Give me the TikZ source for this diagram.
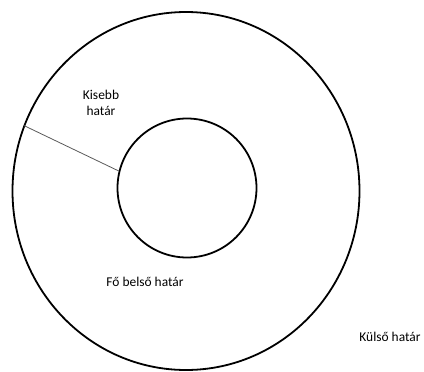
\documentclass[tikz,border=0pt]{standalone}
\usepackage{fontspec}
\setmainfont{Carlito}
\usetikzlibrary{shapes.geometric}
\tikzset{
  hatar/.style={draw,line width=1.8bp,inner sep=0pt},
  cimke/.style={font=\fontsize{13.5}{16.5}\selectfont,align=center,inner sep=0pt}
}
\begin{document}
\begin{tikzpicture}[x=1bp,y=1bp]
\useasboundingbox (0,0) rectangle (424,-372);
% a két határ
\node[hatar,ellipse,minimum width=347bp,minimum height=358bp] (kulso) at (186,-191) {};
\node[hatar,circle,minimum size=139bp] (belso) at (187,-188) {};
\draw[gray!70!black,line width=0.8bp] (kulso.158) -- (belso.166);
% feliratok
\node[cimke] (kisebb) at (101,-103) {Kisebb\\határ};
\node[cimke] (fobelso) at (145,-282) {Fő belső határ};
\node[cimke] (kulsohatar) at (390,-337) {Külső határ};
\end{tikzpicture}
\end{document}
